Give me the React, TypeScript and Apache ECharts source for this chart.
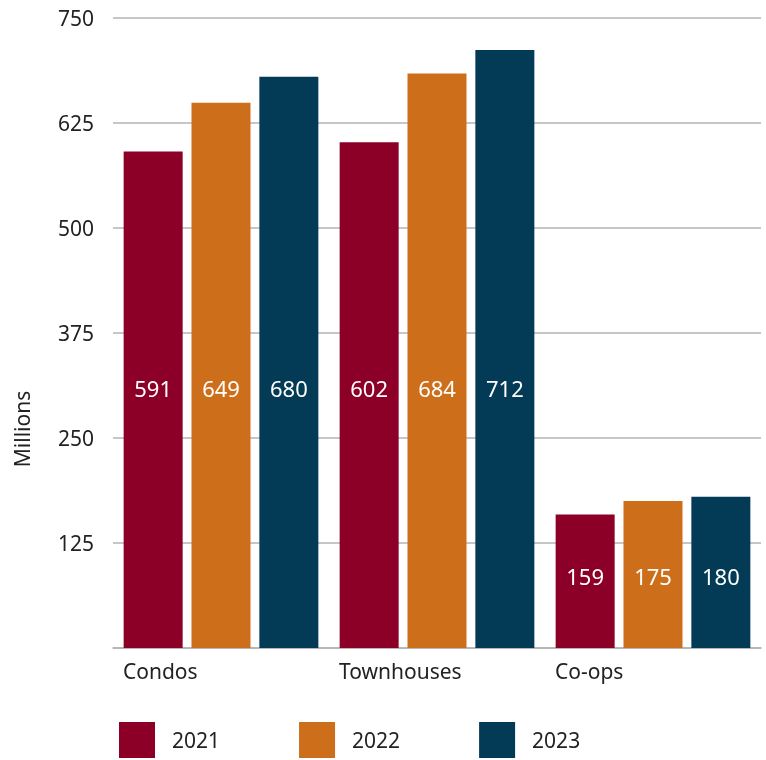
import React, { useEffect, useRef } from "react";
import * as echarts from "echarts";

const categories = ["Condos", "Townhouses", "Co-ops"];
const years = ["2021", "2022", "2023"];
const values2021 = [591, 602, 159];
const values2022 = [649, 684, 175];
const values2023 = [680, 712, 180];
const yTicks = [0, 125, 250, 375, 500, 625, 750];

const colors = ["#8c0027", "#cd6e1a", "#033b56"];
// label lift (px above base) per category, style only
const labelLift = [249, 249, 61];

export default function App() {
  const ref = useRef<HTMLDivElement>(null);
  useEffect(() => {
    if (!ref.current) return;
    const chart = echarts.init(ref.current, null, { renderer: "svg" });
    const font = "'Noto Sans', sans-serif";
    const seriesData = [values2021, values2022, values2023];
    chart.setOption({
      animation: false,
      textStyle: { fontFamily: font },
      grid: { left: 113, right: 5, top: 18, bottom: 112, containLabel: false },
      legend: {
        left: 119,
        top: 722,
        padding: 0,
        itemWidth: 36,
        itemHeight: 36,
        itemGap: 79,
        icon: "rect",
        selectedMode: false,
        textStyle: { fontSize: 21, color: "#222", fontFamily: font, padding: [0, 0, 5, 12] },
        data: years,
      },
      xAxis: {
        type: "category",
        data: categories,
        axisLine: { show: true, lineStyle: { color: "#b3b3b3", width: 1.5 } },
        axisTick: { show: false },
        axisLabel: {
          margin: 12,
          formatter: (v: string) => `{a|${v}}`,
          rich: {
            a: { width: 196, align: "left", fontSize: 21, color: "#222", fontFamily: font },
          },
        },
      },
      yAxis: {
        type: "value",
        min: 0,
        max: 750,
        interval: 125,
        axisLine: { show: false },
        axisTick: { show: false },
        splitLine: { lineStyle: { color: "#b3b3b3", width: 1.5 } },
        axisLabel: {
          margin: 19,
          fontSize: 21,
          color: "#222",
          fontFamily: font,
          formatter: (v: number) => (yTicks.includes(v) && v !== 0 ? String(v) : ""),
        },
      },
      graphic: [
        {
          type: "text",
          x: 22,
          y: 429,
          rotation: Math.PI / 2,
          style: {
            text: "Millions",
            fontSize: 21,
            fill: "#222",
            fontFamily: font,
            textAlign: "center",
            textVerticalAlign: "middle",
          },
        },
      ],
      series: years.map((y, si) => ({
        name: y,
        type: "bar",
        barWidth: 59,
        barGap: "15%",
        itemStyle: { color: colors[si] },
        label: {
          show: true,
          position: "insideBottom",
          color: "#fff",
          fontSize: 22,
          fontFamily: font,
          formatter: "{c}",
        },
        data: seriesData[si].map((v, i) => ({ value: v, label: { distance: labelLift[i] } })),
      })),
    });
    return () => chart.dispose();
  }, []);
  return (
    <div
      ref={ref}
      style={{ position: "fixed", left: 0, top: 0, width: 766, height: 760 }}
    />
  );
}
